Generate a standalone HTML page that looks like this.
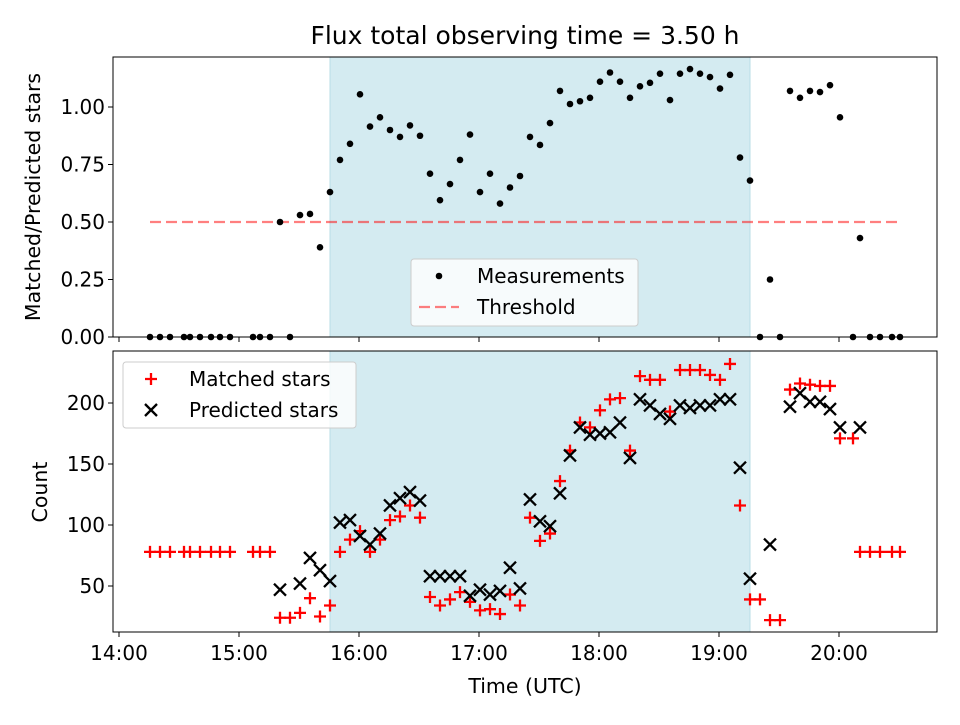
<!DOCTYPE html>
<html><head><meta charset="utf-8"><style>
body{margin:0;background:#fff;}
svg{font-family:"DejaVu Sans","Liberation Sans",sans-serif;}
</style></head><body>
<svg id="chart" width="960" height="720" viewBox="0 0 960 720">
<text x="525" y="44" font-size="25" text-anchor="middle">Flux total observing time = 3.50 h</text>
<g id="topPanel"></g>
<g id="botPanel"></g>
<text x="525" y="693" font-size="20.5" text-anchor="middle">Time (UTC)</text>
<text transform="translate(40,197) rotate(-90)" font-size="20.5" text-anchor="middle">Matched/Predicted stars</text>
<text transform="translate(47,492) rotate(-90)" font-size="20.5" text-anchor="middle">Count</text>
</svg>
<script>
// minutes after 14:00
const times = [15.5,20.5,25.5,32.5,35.5,40.5,46,50.5,55.5,67,70.5,75.5,
80.5,85.5,90.5,95.5,100.5,105.5,110.5,115.5,120.5,125.5,130.5,135.5,140.5,145.5,150.5,155.5,160.5,165.5,170.5,175.5,180.5,185.5,190.5,195.5,200.5,205.5,210.5,215.5,220.5,225.5,230.5,235.5,240.5,245.5,250.5,255.5,260.5,265.5,270.5,275.5,280.5,285.5,290.5,295.5,300.5,305.5,310.5,315.5,320.5,325.5,330.5,335.5,340.5,345.5,350.5,355.5,360.5,
367,370.5,375.5,380.5,386.5,390.5];
const ratio = [0,0,0,0,0,0,0,0,0,0,0,0,
0.50,0,0.53,0.535,0.39,0.63,0.77,0.84,1.055,0.915,0.955,0.90,0.87,0.92,0.875,0.71,0.595,0.665,0.77,0.88,0.63,0.71,0.58,0.65,0.70,0.87,0.835,0.93,1.07,1.013,1.025,1.04,1.11,1.15,1.11,1.04,1.09,1.105,1.145,1.03,1.145,1.165,1.145,1.13,1.08,1.14,0.78,0.68,0,0.25,0,1.07,1.04,1.07,1.065,1.095,0.955,
0,0.43,0,0,0,0];
const matched = [78,78,78,78,78,78,78,78,78,78,78,78,
24,24,28,40,25,34,78,88,95,78,88,104,107,116,106,41,34,39,45,37,30,31,27,43,34,106,87,93,136,161,184,180,194,203,204,161,222,219,219,193,227,227,227,223,219,232,116,39,39,22,22,211,216,215,214,214,171,
171,78,78,78,78,78];
const predicted = [null,null,null,null,null,null,null,null,null,null,null,null,
47,null,52,73,63,54,102,104,91,84,93,116,122,127,120,58,58,58,58,42,47,43,46,65,48,121,103,99,126,157,180,174,175,176,184,155,203,198,191,187,198,196,198,198,203,203,147,56,null,84,null,197,208,201,201,195,180,
null,180,null,null,null,null];
const xTicks = [0,60,120,180,240,300,360];
const xTickLabels = ["14:00","15:00","16:00","17:00","18:00","19:00","20:00"];
const topTicks = [0,0.25,0.5,0.75,1.0];
const topTickLabels = ["0.00","0.25","0.50","0.75","1.00"];
const botTicks = [50,100,150,200];
const botTickLabels = ["50","100","150","200"];
const threshold = 0.5;
const thrStart = 15.5, thrEnd = 390.5;
const shadeStart = 105.5, shadeEnd = 315.5;

const NS="http://www.w3.org/2000/svg";
const L=113,R=937;
const xs = m => 119 + 2*m;
const yTop = v => 337 - 230*v;
const yBot = v => 647 - 1.22*v;
function mk(tag, attrs, parent){const e=document.createElementNS(NS,tag);for(const k in attrs)e.setAttribute(k,attrs[k]);parent.appendChild(e);return e;}

function panel(g, y0, y1, ticks, labels, yf, showX){
  const sh = mk('rect',{x:xs(shadeStart),y:y0,width:xs(shadeEnd)-xs(shadeStart),height:y1-y0,fill:'#d4ebf1',stroke:'#b9dce6','stroke-width':1},g);
  
  
  ticks.forEach((t,i)=>{
    const y=yf(t);
    mk('line',{x1:L-5,x2:L,y1:y,y2:y,stroke:'#000','stroke-width':1},g);
    const tx=mk('text',{x:L-8,y:y+7,'font-size':20,'text-anchor':'end'},g);
    tx.textContent=labels[i];
    
    
  });
  xTicks.forEach((t,i)=>{
    const x=xs(t);
    mk('line',{x1:x,x2:x,y1:y1,y2:y1+5,stroke:'#000','stroke-width':1},g);
    if(showX){
      const tx=mk('text',{x:x,y:y1+28,'font-size':20,'text-anchor':'middle'},g);
      tx.textContent=xTickLabels[i];
      
      
    }
  });
}
const topG=document.getElementById('topPanel'), botG=document.getElementById('botPanel');
panel(topG,57,337,topTicks,topTickLabels,yTop,false);
panel(botG,351,632,botTicks,botTickLabels,yBot,true);

const thr=mk('line',{x1:xs(thrStart),x2:xs(thrEnd),y1:yTop(threshold),y2:yTop(threshold),stroke:'#ff0000','stroke-opacity':0.5,'stroke-width':2.2,'stroke-dasharray':'11,5'},topG);



times.forEach((m,i)=>{
  const v=ratio[i]; if(v==null)return;
  const c=mk('circle',{cx:xs(m),cy:yTop(v),r:3.3,fill:'#000'},topG);
  
  
});
function plus(g,x,y,col){return mk('path',{d:`M${x-6},${y}H${x+6}M${x},${y-6}V${y+6}`,stroke:col,'stroke-width':2.3,fill:'none'},g);}
function cross(g,x,y,col){return mk('path',{d:`M${x-6},${y-6}L${x+6},${y+6}M${x-6},${y+6}L${x+6},${y-6}`,stroke:col,'stroke-width':2.3,fill:'none'},g);}
times.forEach((m,i)=>{
  const v=matched[i]; if(v==null)return;
  const p=plus(botG,xs(m),yBot(v),'#ff0000');
  
  
});
times.forEach((m,i)=>{
  const v=predicted[i]; if(v==null)return;
  const p=cross(botG,xs(m),yBot(v),'#000');
  
  
});
[[topG,57,337],[botG,351,632]].forEach(([g,a,b])=>{
  const f=mk('rect',{x:L,y:a,width:R-L,height:b-a,fill:'none',stroke:'#000','stroke-width':1},g);
  
  
});
function legend(g,x,y,w,h,items){
  const lg=mk('g',{},g);
  
  
  mk('rect',{x:x,y:y,width:w,height:h,rx:3,fill:'#fff','fill-opacity':0.8,stroke:'#ccc'},lg);
  items.forEach((it,i)=>{
    const cy=y+17+i*31, mx=x+28;
    if(it.t==='dot') mk('circle',{cx:mx,cy:cy,r:3.3,fill:'#000'},lg);
    else if(it.t==='dash') mk('line',{x1:mx-20,x2:mx+20,y1:cy,y2:cy,stroke:'#ff0000','stroke-opacity':0.5,'stroke-width':2.2,'stroke-dasharray':'11,5'},lg);
    else if(it.t==='plus') plus(lg,mx,cy,'#ff0000');
    else cross(lg,mx,cy,'#000');
    const t=mk('text',{x:x+66,y:cy+7,'font-size':20},lg);
    t.textContent=it.label;
    
    
  });
}
legend(topG,411,259,227,67,[{t:'dot',label:'Measurements'},{t:'dash',label:'Threshold'}]);
legend(botG,123,362,233,66,[{t:'plus',label:'Matched stars'},{t:'cross',label:'Predicted stars'}]);
</script>
</body></html>
